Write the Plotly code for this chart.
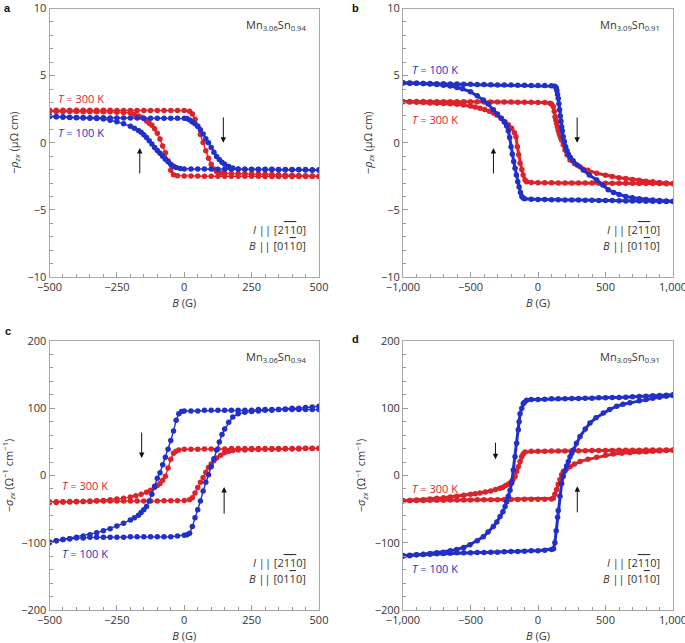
import plotly.graph_objects as go

RED = '#DD2229'
BLUE = '#2030C8'
TXT = '#333333'

# ---------------- Panel a : -rho_zx, Mn3.06Sn0.94 ----------------
a_red_up_B = [-500,-475,-450,-425,-400,-375,-350,-325,-300,-275,-250,-225,-200,-175,-150,-125,-100,-75,-50,-25,0,
              20,30,40,50,60,70,80,90,100,110,120,135,150,175,200,225,250,275,300,325,350,375,400,425,450,475,500]
a_red_up_v = [2.43,2.43,2.43,2.42,2.42,2.42,2.42,2.42,2.42,2.42,2.41,2.41,2.41,2.41,2.41,2.40,2.40,2.40,2.40,2.40,2.40,
              2.35,2.15,1.75,1.22,0.62,0.02,-0.60,-1.15,-1.60,-1.95,-2.15,-2.25,-2.28,-2.30,-2.30,-2.31,-2.32,-2.33,-2.34,-2.36,
              -2.38,-2.40,-2.42,-2.44,-2.46,-2.48,-2.50]
a_red_dn_B = [-500,-475,-450,-425,-400,-375,-350,-325,-300,-275,-250,-225,-200,
              -185,-170,-160,-150,-140,-130,-120,-110,-100,-90,-80,-70,-60,-50,-40,-25,
              0,25,50,75,100,125,150,175,200,225,250,275,300,325,350,375,400,425,450,475,500]
a_red_dn_v = [2.33,2.33,2.32,2.32,2.32,2.31,2.31,2.31,2.30,2.30,2.28,2.26,2.22,
              2.12,2.00,1.90,1.80,1.62,1.45,1.30,1.05,0.70,0.28,-0.25,-0.75,-1.35,-2.05,-2.38,-2.45,
              -2.47,-2.48,-2.48,-2.49,-2.49,-2.49,-2.50,-2.50,-2.50,-2.50,-2.50,-2.50,-2.51,-2.51,-2.51,-2.51,-2.51,-2.52,-2.52,-2.52,-2.52]
a_blue_up_B = [-500,-475,-450,-425,-400,-375,-350,-325,-300,-275,-250,-225,-200,-175,-150,-125,-100,-75,-50,-25,0,
               10,20,30,40,50,60,70,80,90,100,110,120,130,140,150,165,180,200,225,250,
               275,300,325,350,375,400,425,450,475,500]
a_blue_up_v = [1.97,1.94,1.92,1.90,1.89,1.88,1.87,1.86,1.86,1.85,1.85,1.84,1.84,1.84,1.83,1.83,1.83,1.83,1.83,1.82,1.82,
               1.80,1.70,1.55,1.42,1.22,0.97,0.65,0.30,0.00,-0.35,-0.70,-1.02,-1.25,-1.45,-1.60,-1.77,-1.88,-1.95,-1.98,-1.99,
               -2.00,-2.00,-2.00,-2.01,-2.01,-2.02,-2.02,-2.03,-2.04,-2.05]
a_blue_dn_B = [-500,-475,-450,-425,-400,-375,-350,-325,-300,-275,-250,-225,-200,
               -185,-170,-160,-150,-140,-130,-120,-110,-100,-90,-80,-70,-60,-50,-40,-30,-15,
               0,25,50,75,100,125,150,175,200,225,250,275,300,325,350,375,400,425,450,475,500]
a_blue_dn_v = [1.96,1.93,1.91,1.89,1.87,1.85,1.83,1.80,1.76,1.68,1.57,1.42,1.22,
               1.08,0.92,0.78,0.60,0.40,0.15,-0.10,-0.35,-0.58,-0.78,-1.00,-1.22,-1.42,-1.60,-1.75,-1.85,-1.92,
               -1.95,-1.96,-1.96,-1.96,-1.96,-1.97,-1.97,-1.97,-1.97,-1.97,-1.98,-1.98,-1.98,-1.98,-1.99,-1.99,-1.99,-2.00,-2.00,-2.01,-2.02]

# ---------------- Panel b : -rho_zx, Mn3.09Sn0.91 ----------------
b_blue_up_B = [-1000,-950,-900,-850,-800,-750,-700,-650,-600,-550,-500,-450,-400,-350,-300,-250,-200,-150,-100,-50,0,
               50,100,125,135,140,145,150,155,160,165,170,175,180,187,195,205,215,225,240,260,290,335,380,435,480,520,560,
               600,650,700,750,800,850,900,950,1000]
b_blue_up_v = [4.45,4.44,4.43,4.42,4.41,4.40,4.39,4.38,4.37,4.36,4.35,4.34,4.33,4.32,4.31,4.30,4.30,4.29,4.28,4.27,4.27,
               4.26,4.24,4.20,4.10,3.90,3.60,3.30,2.90,2.45,2.00,1.60,1.20,0.90,0.45,0.10,-0.30,-0.60,-0.85,-1.10,-1.35,
               -1.65,-2.03,-2.40,-2.77,-3.15,-3.50,-3.70,-3.85,-4.00,-4.10,-4.17,-4.22,-4.27,-4.30,-4.33,-4.36]
b_blue_dn_B = [-1000,-950,-900,-850,-800,-750,-700,-650,-600,-560,-500,-450,-405,-370,-330,-300,-270,-250,-232,-220,
               -210,-200,-190,-180,-170,-160,-150,-140,-130,-120,-110,-100,-50,0,50,100,150,200,250,300,
               350,400,450,500,550,600,650,700,750,800,850,900,950,1000]
b_blue_dn_v = [4.46,4.45,4.43,4.41,4.38,4.34,4.29,4.22,4.12,4.02,3.80,3.50,3.18,2.88,2.45,2.15,1.80,1.55,1.25,0.90,
               0.40,-0.30,-0.85,-1.40,-1.90,-2.40,-2.90,-3.30,-3.70,-4.00,-4.12,-4.18,-4.20,-4.22,-4.23,-4.24,-4.25,-4.26,-4.27,-4.27,
               -4.28,-4.29,-4.30,-4.30,-4.31,-4.32,-4.33,-4.33,-4.34,-4.35,-4.36,-4.37,-4.37,-4.38]
b_red_up_B = [-1000,-950,-900,-850,-800,-750,-700,-650,-600,-550,-500,-450,-400,-350,-300,-250,-200,-150,-100,-50,0,
              50,89,100,113,120,126,132,138,144,150,156,162,168,175,187,200,215,237,270,311,
              370,435,500,550,600,650,700,750,800,850,900,950,1000]
b_red_up_v = [3.08,3.08,3.07,3.07,3.06,3.06,3.06,3.05,3.05,3.05,3.05,3.05,3.04,3.04,3.04,3.03,3.03,3.02,3.02,3.01,3.00,
              3.00,2.95,2.88,2.70,2.35,1.94,1.70,1.45,1.20,0.95,0.75,0.55,0.38,0.20,-0.15,-0.54,-0.90,-1.28,-1.55,-1.78,
              -2.05,-2.27,-2.42,-2.52,-2.60,-2.67,-2.74,-2.80,-2.86,-2.91,-2.96,-3.00,-3.04]
b_red_dn_B = [-1000,-950,-900,-850,-800,-750,-700,-650,-600,-553,-500,-465,-430,-395,-360,-330,-306,-275,-244,-220,
              -195,-175,-163,-153,-143,-133,-120,-110,-96,-84,-50,0,
              50,100,150,200,250,300,350,400,450,500,550,600,650,700,750,800,850,900,950,1000]
b_red_dn_v = [3.06,3.04,3.02,3.00,2.97,2.95,2.93,2.90,2.86,2.81,2.73,2.66,2.57,2.47,2.35,2.22,2.07,1.85,1.57,1.35,
              1.08,0.75,0.45,-0.29,-0.90,-1.53,-2.00,-2.40,-2.77,-2.90,-2.96,-2.98,
              -2.98,-2.98,-2.99,-2.99,-2.99,-3.00,-3.00,-3.00,-3.01,-3.01,-3.01,-3.02,-3.02,-3.02,-3.03,-3.03,-3.04,-3.04,-3.05,-3.05]

# ---------------- Panel c : -sigma_zx, Mn3.06Sn0.94 ----------------
c_blue_up_B = [-500,-475,-450,-425,-400,-375,-350,-325,-300,-275,-250,-225,-200,-175,-150,-125,-100,-75,-50,-25,0,
               10,20,30,40,50,60,70,80,90,100,110,120,130,140,150,165,180,200,225,250,
               275,300,325,350,375,400,425,450,475,500]
c_blue_up_v = [-100,-97,-95,-94,-93,-93,-92,-92,-92,-92,-92,-92,-91,-91,-91,-91,-91,-91,-91,-90,-89,
               -88,-86,-76,-63,-51,-38,-23,-10,1,13,25,38,50,61,69,79,87,92,94,95,
               96,97,97,98,99,100,100,101,102,103]
c_blue_dn_B = [-500,-475,-450,-425,-400,-375,-350,-325,-300,-275,-250,-225,-200,
               -185,-170,-160,-150,-140,-130,-120,-110,-100,-90,-80,-70,-60,-50,-40,-30,-20,-10,
               0,25,50,75,100,125,150,175,200,225,250,275,300,325,350,375,400,425,450,475,500]
c_blue_dn_v = [-99,-97,-95,-94,-92,-90,-88,-85,-82,-79,-75,-71,-66,
               -63,-59,-55,-51,-46,-38,-28,-16,-4,4,16,27,39,52,66,82,92,95,
               96,96,96,97,97,97,97,97,97,97,97,98,98,98,98,98,98,98,98,98,98]
c_red_up_B = [-500,-475,-450,-425,-400,-375,-350,-325,-300,-275,-250,-225,-200,-175,-150,-125,-100,-75,-50,-25,0,
              20,30,40,50,60,70,80,90,100,110,120,135,150,165,180,200,225,250,275,300,
              325,350,375,400,425,450,475,500]
c_red_up_v = [-39,-39,-39,-38.5,-38.5,-38.5,-38.5,-38,-38,-38,-38,-38,-38,-38,-38,-38,-38,-37.5,-37.5,-37.5,-37,
              -36,-33,-26,-18,-10,-3,5,12,17,22,26,30,34,36,37,38,38,38.5,38.5,39,
              39,39,39.5,39.5,39.5,40,40,40]
c_red_dn_B = [-500,-475,-450,-425,-400,-375,-350,-325,-300,-275,-250,-225,-200,
              -180,-160,-140,-125,-110,-100,-90,-80,-70,-60,-50,-40,-30,-20,
              0,25,50,75,100,125,150,175,200,225,250,275,300,325,350,375,400,425,450,475,500]
c_red_dn_v = [-40,-40,-39.5,-39.5,-39,-38.5,-38,-37.5,-37,-36,-35,-34,-32,
              -30,-28,-25,-22,-18,-15,-12,-7,-1,11,24,33,36,38,
              39,39,39,39.5,39.5,39.5,39.5,40,40,40,40,40,40,40,40,40,40,40.5,40.5,40.5,40.5]

# ---------------- Panel d : -sigma_zx, Mn3.09Sn0.91 ----------------
d_blue_up_B = [-1000,-950,-900,-850,-800,-750,-700,-650,-600,-550,-500,-450,-400,-350,-300,-250,-200,-150,-100,-50,0,
               50,100,115,125,135,145,150,163,175,187,200,212,225,237,250,261,285,311,350,385,
               430,484,530,583,630,681,750,800,850,900,950,1000]
d_blue_up_v = [-119,-118.5,-118,-117.5,-117,-116.5,-116,-115.5,-115,-115,-115,-114.5,-114.5,-114,-114,-113.5,-113,-113,-112.5,-112,-112,
               -111,-110,-109,-100,-82,-62,-52,-31,-12,-1,7,14,21,28,33,38,48,58,69,78,
               86,93,98,103,106,108,111,113,115,116.5,118,119]
d_blue_dn_B = [-1000,-950,-900,-850,-800,-750,-700,-650,-602,-550,-504,-450,-405,-370,-331,-305,-281,-260,-244,-232,
               -220,-207,-195,-183,-170,-158,-146,-140,-133,-120,-109,-100,-84,-50,0,
               50,100,150,200,250,300,350,400,450,500,550,600,650,700,750,800,850,900,950,1000]
d_blue_dn_v = [-120,-119.5,-118,-117,-116,-115,-114,-112,-110,-107,-103,-97,-91,-84,-76,-69,-61,-54,-46,-39,
               -31,-22,-11,8,28,48,68,80,92,100,107,109,112,113,113,
               113.5,114,114,114,114.5,114.5,115,115,115.5,115.5,116,116,116.5,117,117.5,118,118.5,119,119.5,120]
d_red_up_B = [-1000,-950,-900,-850,-800,-750,-700,-650,-600,-550,-500,-450,-400,-350,-300,-250,-200,-150,-100,-50,0,50,100,
              113,125,138,150,163,175,187,212,237,270,311,370,435,500,558,620,681,750,800,850,900,950,1000]
d_red_up_v = [-37.5,-37.3,-37.1,-37,-36.9,-36.8,-36.7,-36.6,-36.5,-36.4,-36.3,-36.2,-36.1,-36,-35.9,-35.8,-35.7,-35.6,-35.5,-35.4,-35.3,-35.2,-35.1,
              -34,-28,-21,-13,-6,1,6,10,13,17,21,24,27,30,32,33,34,35,35.5,36,36.5,37,37.5]
d_red_dn_B = [-1000,-950,-900,-850,-800,-750,-700,-650,-602,-550,-500,-465,-430,-390,-350,-315,-281,-260,-240,-220,
              -207,-195,-185,-170,-158,-146,-133,-121,-110,-96,-50,0,
              50,100,150,200,250,300,350,400,450,500,550,600,650,700,750,800,850,900,950,1000]
d_red_dn_v = [-37.5,-37,-36.5,-36,-35,-34,-33,-32,-31,-29.5,-28,-27,-26,-24.5,-23,-21,-19,-17.5,-15,-13,
              -11,-8.5,-6,-1.5,6,13,21,28,32,35,36,36,
              36.2,36.4,36.5,36.6,36.7,36.8,36.9,37,37.1,37.2,37.3,37.4,37.5,37.6,37.7,37.8,37.9,38,38,38]

# ---------------- ticks ----------------
rho_ticks = [-10, -5, 0, 5, 10]
rho_ticktext = ['\u221210', '\u22125', '0', '5', '10']
sig_ticks = [-200, -100, 0, 100, 200]
sig_ticktext = ['\u2212200', '\u2212100', '0', '100', '200']
B500_ticks = [-500, -250, 0, 250, 500]
B500_ticktext = ['\u2212500', '\u2212250', '0', '250', '500']
B1000_ticks = [-1000, -500, 0, 500, 1000]
B1000_ticktext = ['\u22121,000', '\u2212500', '0', '500', '1,000']

fig = go.Figure()

def add_branch(B, v, color, xa, ya, msize, lw):
    assert len(B) == len(v), (len(B), len(v))
    fig.add_trace(go.Scatter(x=B, y=v, mode='lines+markers', xaxis=xa, yaxis=ya,
                             line=dict(color=color, width=lw),
                             marker=dict(color=color, size=msize, line=dict(width=0)),
                             showlegend=False, hoverinfo='skip'))

# panel a
add_branch(a_red_up_B, a_red_up_v, RED, 'x', 'y', 5.5, 1.4)
add_branch(a_red_dn_B, a_red_dn_v, RED, 'x', 'y', 5.5, 1.4)
add_branch(a_blue_up_B, a_blue_up_v, BLUE, 'x', 'y', 5.5, 1.4)
add_branch(a_blue_dn_B, a_blue_dn_v, BLUE, 'x', 'y', 5.5, 1.4)
# panel b
add_branch(b_red_up_B, b_red_up_v, RED, 'x2', 'y2', 5.5, 3)
add_branch(b_red_dn_B, b_red_dn_v, RED, 'x2', 'y2', 5.5, 3)
add_branch(b_blue_up_B, b_blue_up_v, BLUE, 'x2', 'y2', 5.5, 3)
add_branch(b_blue_dn_B, b_blue_dn_v, BLUE, 'x2', 'y2', 5.5, 3)
# panel c
add_branch(c_red_up_B, c_red_up_v, RED, 'x3', 'y3', 5.5, 1.4)
add_branch(c_red_dn_B, c_red_dn_v, RED, 'x3', 'y3', 5.5, 1.4)
add_branch(c_blue_up_B, c_blue_up_v, BLUE, 'x3', 'y3', 5.5, 1.4)
add_branch(c_blue_dn_B, c_blue_dn_v, BLUE, 'x3', 'y3', 5.5, 1.4)
# panel d
add_branch(d_red_up_B, d_red_up_v, RED, 'x4', 'y4', 5.5, 3)
add_branch(d_red_dn_B, d_red_dn_v, RED, 'x4', 'y4', 5.5, 3)
add_branch(d_blue_up_B, d_blue_up_v, BLUE, 'x4', 'y4', 5.5, 3)
add_branch(d_blue_dn_B, d_blue_dn_v, BLUE, 'x4', 'y4', 5.5, 3)

W, H = 685, 643
xL = [49.5 / W, 319 / W]
xR = [403 / W, 673 / W]
yT = [1 - 277 / H, 1 - 8.5 / H]
yB = [1 - 610 / H, 1 - 341 / H]

FONT = 'Open Sans'

def ax_style(domain, rng, tv, tt, minor_dt, anchor, title):
    return dict(domain=domain, range=rng, anchor=anchor, tickmode='array', tickvals=tv, ticktext=tt,
                showline=True, linecolor='#a8a8a8', linewidth=1, mirror=True,
                ticks='inside', ticklen=5, tickwidth=1, tickcolor='#999999',
                minor=dict(dtick=minor_dt, tick0=0, ticks='inside', ticklen=3, tickwidth=1, tickcolor='#999999', showgrid=False),
                showgrid=False, zeroline=False, fixedrange=True, ticklabeloverflow='allow',
                tickfont=dict(family=FONT, size=11, color=TXT),
                title=dict(text=title, font=dict(family=FONT, size=11, color=TXT), standoff=6))

xtitle = '<i>B</i> (G)'
rho_title = '\u2212<i>\u03c1</i><sub><i>zx</i></sub> (\u03bc\u03a9 cm)'
sig_title = '\u2212<i>\u03c3</i><sub><i>zx</i></sub> (\u03a9<sup>\u22121</sup> cm<sup>\u22121</sup>)'

fig.update_layout(
    width=W, height=H, margin=dict(l=0, r=0, t=0, b=0),
    template='none', paper_bgcolor='white', plot_bgcolor='white',
    font=dict(family=FONT, size=11, color=TXT),
    xaxis=ax_style(xL, [-500, 500], B500_ticks, B500_ticktext, 50, 'y', xtitle),
    yaxis=ax_style(yT, [-10, 10], rho_ticks, rho_ticktext, 1, 'x', rho_title),
    xaxis2=ax_style(xR, [-1000, 1000], B1000_ticks, B1000_ticktext, 100, 'y2', xtitle),
    yaxis2=ax_style(yT, [-10, 10], rho_ticks, rho_ticktext, 1, 'x2', rho_title),
    xaxis3=ax_style(xL, [-500, 500], B500_ticks, B500_ticktext, 50, 'y3', xtitle),
    yaxis3=ax_style(yB, [-200, 200], sig_ticks, sig_ticktext, 20, 'x3', sig_title),
    xaxis4=ax_style(xR, [-1000, 1000], B1000_ticks, B1000_ticktext, 100, 'y4', xtitle),
    yaxis4=ax_style(yB, [-200, 200], sig_ticks, sig_ticktext, 20, 'x4', sig_title),
)

OV = "<span style='text-decoration:overline'>"
I_dir = "<i>I</i> || [2" + OV + "11</span>0]"
B_dir = "<i>B</i> || [01" + OV + "1</span>0]"

ann = []
def txt(x, y, s, xr, yr, color=TXT, anchor='left', size=11):
    ann.append(dict(x=x, y=y, xref=xr, yref=yr, text=s, showarrow=False, xanchor=anchor, yanchor='middle',
                    font=dict(family=FONT, size=size, color=color)))

def arrow(x, y0, y1, xr, yr):
    ann.append(dict(x=x, y=y1, ax=x, ay=y0, xref=xr, yref=yr, axref=xr, ayref=yr, text='', showarrow=True,
                    arrowhead=2, arrowsize=1.1, arrowwidth=1, arrowcolor='#111111'))

panels = [('x', 'y', 500, 10, 'Mn<sub>3.06</sub>Sn<sub>0.94</sub>'),
          ('x2', 'y2', 1000, 10, 'Mn<sub>3.09</sub>Sn<sub>0.91</sub>'),
          ('x3', 'y3', 500, 200, 'Mn<sub>3.06</sub>Sn<sub>0.94</sub>'),
          ('x4', 'y4', 1000, 200, 'Mn<sub>3.09</sub>Sn<sub>0.91</sub>')]
for xr, yr, xm, ym, mn in panels:
    txt(0.92 * xm, 0.878 * ym, mn, xr, yr, anchor='right')
    txt(0.92 * xm, -0.645 * ym, I_dir, xr, yr, anchor='right')
    txt(0.92 * xm, -0.765 * ym, B_dir, xr, yr, anchor='right')

# temperature labels
txt(-475, 3.26, '<i>T</i> = 300 K', 'x', 'y', RED)
txt(-475, 0.75, '<i>T</i> = 100 K', 'x', 'y', BLUE)
txt(-948, 5.49, '<i>T</i> = 100 K', 'x2', 'y2', BLUE)
txt(-948, 1.74, '<i>T</i> = 300 K', 'x2', 'y2', RED)
txt(-461, -15, '<i>T</i> = 300 K', 'x3', 'y3', RED)
txt(-461, -116, '<i>T</i> = 100 K', 'x3', 'y3', BLUE)
txt(-948, -20, '<i>T</i> = 300 K', 'x4', 'y4', RED)
txt(-948, -139, '<i>T</i> = 100 K', 'x4', 'y4', BLUE)

# sweep arrows
arrow(145, 2.0, 0.0, 'x', 'y')
arrow(-165, -2.4, -0.4, 'x', 'y')
arrow(290, 2.0, 0.0, 'x2', 'y2')
arrow(-330, -2.4, -0.4, 'x2', 'y2')
arrow(-158, 66, 26, 'x3', 'y3')
arrow(148, -59, -17, 'x3', 'y3')
arrow(-315, 51, 24, 'x4', 'y4')
arrow(291, -57, -16, 'x4', 'y4')

# panel letters
for lx, ly, s in [(8, 8, 'a'), (355, 8, 'b'), (8, 331, 'c'), (355, 339, 'd')]:
    ann.append(dict(x=lx / W, y=1 - ly / H, xref='paper', yref='paper', text='<b>' + s + '</b>', showarrow=False,
                    xanchor='center', yanchor='middle', font=dict(family='Liberation Sans', size=11, color='#111111')))

fig.update_layout(annotations=ann)
fig.write_html('out.html', config={'displayModeBar': False},
               post_script="document.body.style.margin='0px';document.body.style.overflow='hidden';")
